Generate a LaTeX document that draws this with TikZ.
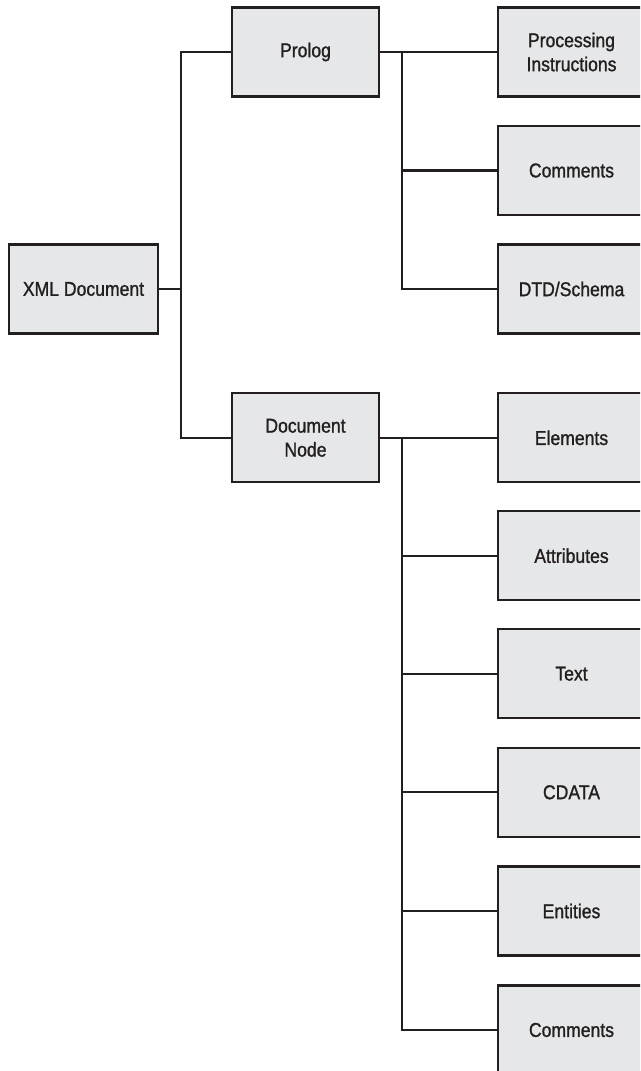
\documentclass[tikz,border=0pt]{standalone}
\usepackage{fontspec}
\setmainfont{Liberation Sans}[FakeStretch=0.88,FakeBold=1.2]
\definecolor{boxfill}{HTML}{E6E7E8}
\definecolor{ink}{HTML}{231F20}
\tikzset{
  box/.style={draw=ink, fill=boxfill, line width=2.2pt, minimum height=89pt, inner sep=0pt,
    align=center, font=\fontsize{20}{24}\selectfont, text=ink},
  lbox/.style={box, minimum width=149pt},
  mbox/.style={box, minimum width=147pt},
  rbox/.style={box, minimum width=147pt},
  conn/.style={draw=ink, line width=2.2pt}
}
\begin{document}
\begin{tikzpicture}[x=1pt,y=-1pt]
\useasboundingbox (0,0) rectangle (640,1071);
\clip (0,0) rectangle (640,1071);
\fill[white] (0,0) rectangle (640,1071);
% nodes
\node[lbox] (xml) at (83.5,289) {XML Document};
\node[mbox] (prolog) at (305.5,52) {Prolog};
\node[mbox] (docnode) at (305.5,437.8) {Document\\Node};
\node[rbox] (pi) at (571.5,52) {Processing\\Instructions};
\node[rbox] (com1) at (571.5,170.5) {Comments};
\node[rbox] (dtd) at (571.5,289) {DTD/Schema};
\node[rbox] (elem) at (571.5,437.8) {Elements};
\node[rbox] (attr) at (571.5,555.7) {Attributes};
\node[rbox] (text) at (571.5,673.7) {Text};
\node[rbox] (cdata) at (571.5,792.3) {CDATA};
\node[rbox] (ent) at (571.5,911) {Entities};
\node[rbox] (com2) at (571.5,1030) {Comments};
% bus coordinates
\coordinate (b1) at ([xshift=22pt]xml.east);
\coordinate (b2) at ([xshift=22pt]prolog.east);
\coordinate (b3) at ([xshift=22pt]docnode.east);
% connectors
\draw[conn] (xml.east) -- (b1);
\draw[conn] (prolog.west) -| (b1) |- (docnode.west);
\draw[conn] (prolog.east) -- (pi.west);
\draw[conn] (b2) |- (com1.west);
\draw[conn] (b2) |- (dtd.west);
\draw[conn] (docnode.east) -- (elem.west);
\draw[conn] (b3) |- (attr.west);
\draw[conn] (b3) |- (text.west);
\draw[conn] (b3) |- (cdata.west);
\draw[conn] (b3) |- (ent.west);
\draw[conn] (b3) |- (com2.west);
\end{tikzpicture}
\end{document}
